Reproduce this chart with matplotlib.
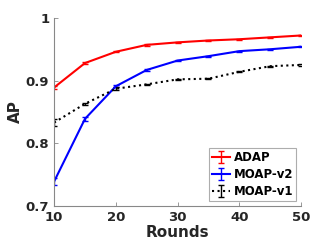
import matplotlib
matplotlib.use("Agg")
import matplotlib.pyplot as plt

rounds = [10, 15, 20, 25, 30, 35, 40, 45, 50]
adap = [0.889, 0.928, 0.946, 0.957, 0.961, 0.964, 0.966, 0.969, 0.972]
adap_err = [0.003, 0.002, 0.001, 0.001, 0.001, 0.001, 0.001, 0.001, 0.001]
moap_v2 = [0.739, 0.839, 0.891, 0.917, 0.932, 0.939, 0.947, 0.950, 0.954]
moap_v2_err = [0.005, 0.003, 0.002, 0.001, 0.001, 0.001, 0.001, 0.001, 0.001]
moap_v1 = [0.833, 0.863, 0.887, 0.894, 0.902, 0.903, 0.914, 0.923, 0.925]
moap_v1_err = [0.006, 0.002, 0.002, 0.001, 0.001, 0.001, 0.001, 0.001, 0.002]

plt.rcParams['font.family'] = ['DejaVu Sans']
plt.rcParams['font.weight'] = 'bold'

fig = plt.figure(figsize=(3.32, 2.49), dpi=100)
ax = fig.add_axes([0.163, 0.173, 0.744, 0.755])

ax.errorbar(rounds, adap, yerr=adap_err, color='#ff0000', lw=1.5, capsize=2, elinewidth=1, label='ADAP')
ax.errorbar(rounds, moap_v2, yerr=moap_v2_err, color='#0000ff', lw=1.5, capsize=2, elinewidth=1, label='MOAP-v2')
ax.errorbar(rounds, moap_v1, yerr=moap_v1_err, color='black', lw=1.5, ls=':', capsize=2, elinewidth=1, label='MOAP-v1')

ax.set_xlim(10, 50)
ax.set_ylim(0.7, 1.0)
ax.set_xticks([10, 20, 30, 40, 50])
ax.set_yticks([0.7, 0.8, 0.9, 1.0])
ax.set_yticklabels(['0.7', '0.8', '0.9', '1'])
for s in ['top', 'right']:
    ax.spines[s].set_visible(False)
for s in ['left', 'bottom']:
    ax.spines[s].set_color('#888888')
    ax.spines[s].set_linewidth(0.8)
ax.tick_params(direction='in', length=3, color='#888888', labelsize=9.5, width=0.6)
for lab in ax.get_xticklabels() + ax.get_yticklabels():
    lab.set_fontweight('bold')
    lab.set_color('#262626')
ax.set_xlabel('Rounds', fontsize=11, fontweight='bold', color='#262626', labelpad=1)
ax.set_ylabel('AP', fontsize=11, fontweight='bold', color='#262626', labelpad=2)

leg = ax.legend(loc='lower right', frameon=True, fancybox=False,
                borderpad=0.25, handlelength=1.6, handletextpad=0.3, labelspacing=0.35,
                borderaxespad=0.4, prop={'weight': 'bold', 'size': 8.5})
leg.get_frame().set_edgecolor('#999999')
leg.get_frame().set_linewidth(0.8)

fig.savefig('out.png', dpi=100)
